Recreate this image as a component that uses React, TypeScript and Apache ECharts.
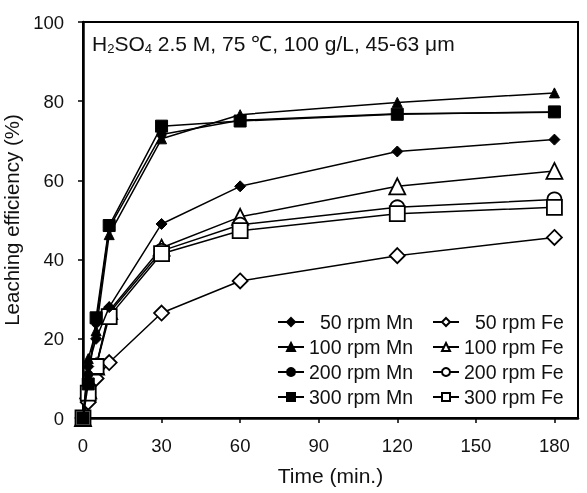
import React, { useEffect, useRef } from "react";
import * as echarts from "echarts";

const times = [0, 2, 5, 10, 30, 60, 120, 180];
const xTicks = [0, 30, 60, 90, 120, 150, 180];

const mn50 = [0, 13, 20, 28, 49, 58.5, 67.3, 70.3];
const mn100 = [0, 15, 22, 46.3, 70.5, 76.6, 79.7, 82.1];
const mn200 = [0, 11, 24, 48, 71.6, 75.2, 76.8, 77.2];
const mn300 = [0, 8.6, 25.3, 48.6, 73.7, 75, 76.7, 77.3];
const fe50 = [0, 4, 10, 14, 26.5, 34.6, 41, 45.6];
const fe100 = [0, 7, 13, 27, 43, 50.8, 58.5, 62.4];
const fe200 = [0, 6.5, 13, 26.5, 42.2, 48.8, 53.2, 55.2];
const fe300 = [0, 6.3, 13, 25.6, 41.5, 47.3, 51.6, 53.2];

const mnNames = ["50 rpm Mn", "100 rpm Mn", "200 rpm Mn", "300 rpm Mn"];
const feNames = ["50 rpm Fe", "100 rpm Fe", "200 rpm Fe", "300 rpm Fe"];

const FONT = "Liberation Sans, Arial, sans-serif";

export default function App() {
  const ref = useRef<HTMLDivElement>(null);
  useEffect(() => {
    if (!ref.current) return;
    const chart = echarts.init(ref.current, undefined, { renderer: "svg" });
    const pair = (ys: number[]) => times.map((t, i) => [t, ys[i]]);
    const mnData = [mn50, mn100, mn200, mn300];
    const feData = [fe50, fe100, fe200, fe300];
    const mnSymbols = ["diamond", "triangle", "circle", "rect"];
    const mnSizes = [11, 10, 9, 12];
    const feSymbols = ["diamond", "triangle", "circle", "rect"];
    const feSizes = [15, 16, 14, 15];

    const series: any[] = [];
    feData.forEach((d, i) => {
      series.push({
        name: feNames[i],
        type: "line",
        data: pair(d),
        symbol: feSymbols[i],
        symbolSize: feSizes[i],
        showAllSymbol: true,
        lineStyle: { color: "#000", width: 1.5 },
        itemStyle: { color: "#fff", borderColor: "#000", borderWidth: 1.8 },
        z: 2,
      });
    });
    mnData.forEach((d, i) => {
      series.push({
        name: mnNames[i],
        type: "line",
        data: pair(d),
        symbol: mnSymbols[i],
        symbolSize: mnSizes[i],
        showAllSymbol: true,
        lineStyle: { color: "#000", width: 1.5 },
        itemStyle: { color: "#000", borderColor: "#000", borderWidth: 1 },
        z: 3,
      });
    });

    const legendCommon = {
      orient: "vertical",
      padding: 0,
      itemWidth: 26,
      itemHeight: 10,
      itemGap: 5,
      selectedMode: false,
      textStyle: {
        fontFamily: FONT,
        fontSize: 19.5,
        color: "#111",
        lineHeight: 20,
        rich: { pad: { width: 11 } },
      },
      formatter: (name: string) =>
        name.startsWith("50 ") ? "{pad|}" + name : name,
    };

    chart.setOption({
      animation: false,
      grid: {
        left: 83,
        right: 9,
        top: 22,
        bottom: 75,
        outerBoundsMode: "none",
        containLabel: false,
        show: true,
        borderColor: "#000",
        borderWidth: 2,
        backgroundColor: "transparent",
      },
      xAxis: {
        type: "value",
        min: 0,
        max: 189,
        interval: 30,
        name: "Time (min.)",
        nameLocation: "middle",
        nameGap: 47,
        nameTextStyle: { fontFamily: FONT, fontSize: 21, color: "#111" },
        axisLine: { show: true, lineStyle: { color: "#000", width: 2.5 } },
        axisTick: {
          show: true,
          inside: false,
          length: 5,
          lineStyle: { color: "#000", width: 1.5 },
          customValues: xTicks,
        },
        axisLabel: {
          fontFamily: FONT,
          fontSize: 18.5,
          color: "#111",
          margin: 18,
          customValues: xTicks,
        },
        splitLine: { show: false },
      },
      yAxis: {
        type: "value",
        min: 0,
        max: 100,
        interval: 20,
        name: "Leaching efficiency (%)",
        nameLocation: "middle",
        nameGap: 58,
        nameTextStyle: { fontFamily: FONT, fontSize: 20.5, color: "#111" },
        axisLine: { show: true, lineStyle: { color: "#000", width: 2.5 } },
        axisTick: {
          show: true,
          inside: false,
          length: 5,
          lineStyle: { color: "#000", width: 1.5 },
        },
        axisLabel: {
          fontFamily: FONT,
          fontSize: 18.5,
          color: "#111",
          margin: 19,
        },
        splitLine: { show: false },
      },
      legend: [
        { ...legendCommon, data: mnNames, left: 277, top: 312 },
        { ...legendCommon, data: feNames, left: 432, top: 312 },
      ],
      graphic: [
        {
          type: "text",
          left: 92,
          top: 33,
          style: {
            text: "H{sub|2}SO{sub|4} 2.5 M, 75 \u2103, 100 g/L, 45-63 \u03bcm",
            fontFamily: FONT,
            fontSize: 21,
            fill: "#111",
            rich: {
              sub: {
                fontFamily: FONT,
                fontSize: 13,
                fill: "#111",
                verticalAlign: "bottom",
                padding: [9, 0, 0, 0],
              },
            },
          },
        },
      ],
      series,
    });
    return () => chart.dispose();
  }, []);
  return (
    <div
      ref={ref}
      style={{ position: "fixed", left: 0, top: 0, width: 587, height: 493 }}
    />
  );
}
